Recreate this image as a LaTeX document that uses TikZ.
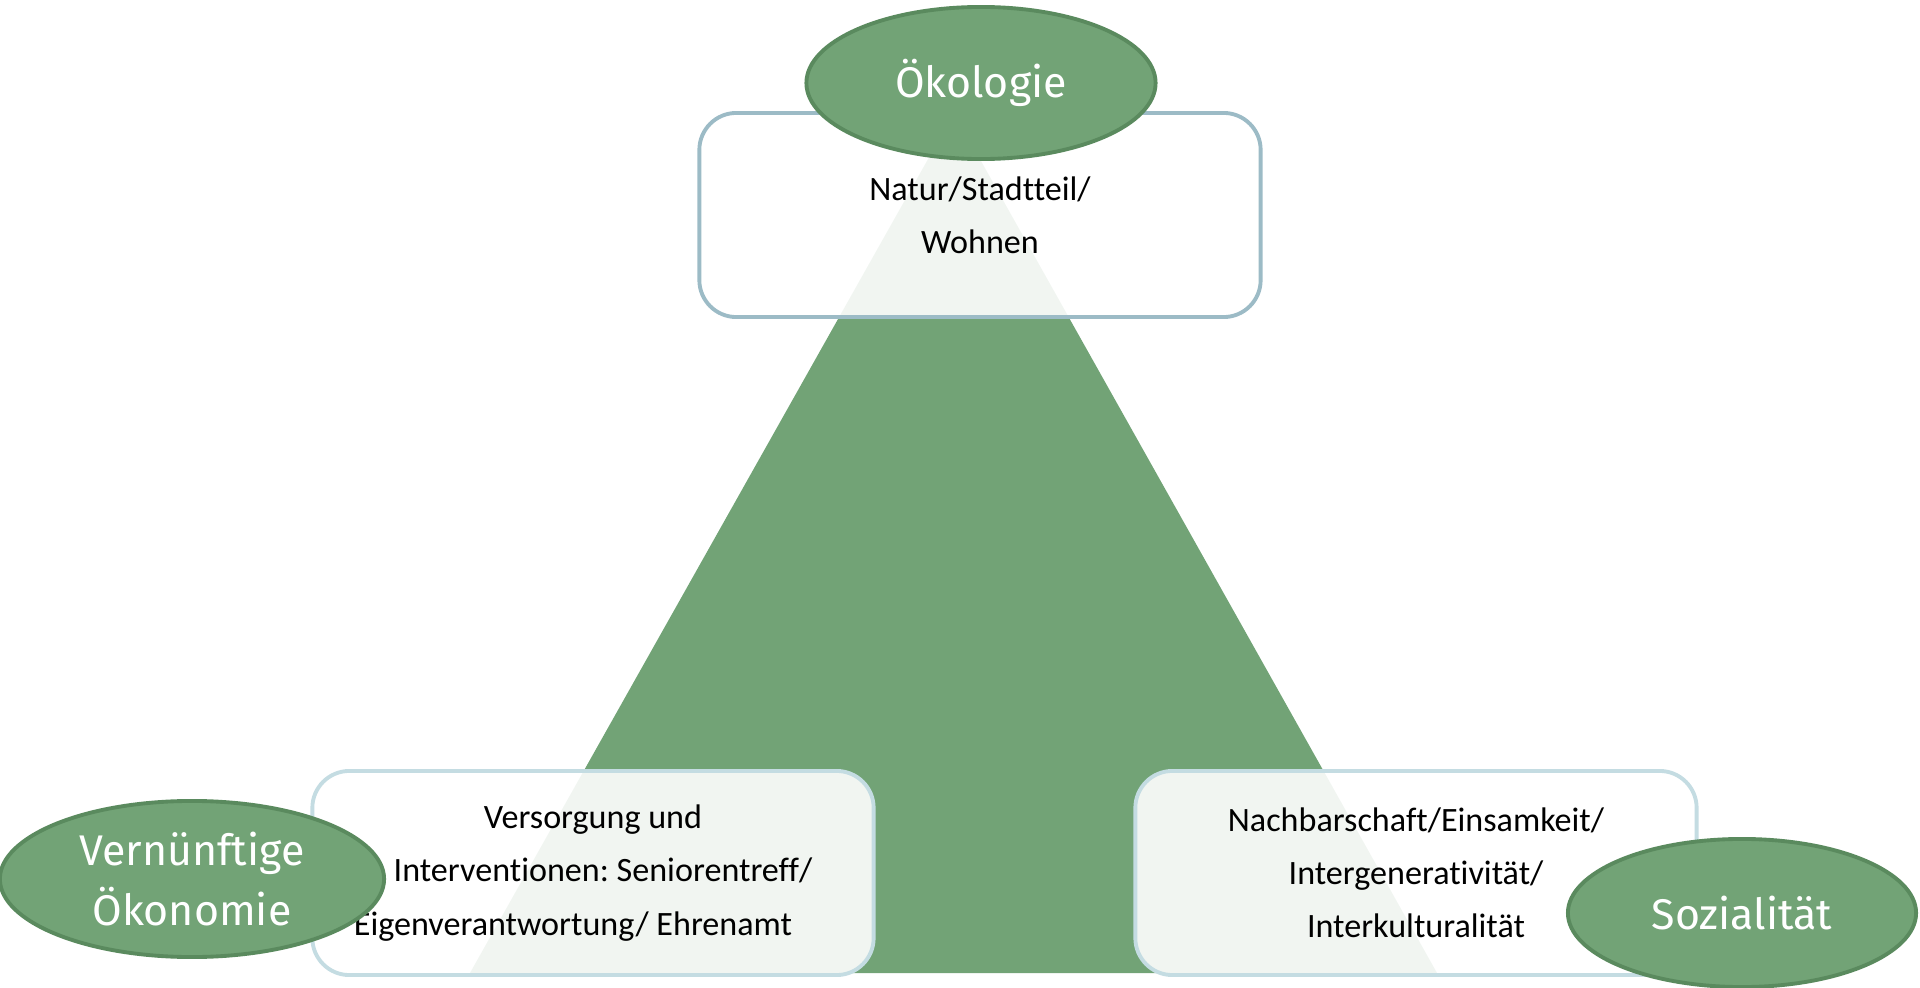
\documentclass[tikz,border=0pt]{standalone}
\usepackage{fontspec}
\setmainfont[Ligatures=NoCommon]{Carlito}
\newfontfamily\themefont{Fira Sans}
\usetikzlibrary{shapes.geometric}
\definecolor{leaf}{HTML}{72A376}
\definecolor{leafdark}{HTML}{5A8A5E}
\definecolor{frametop}{HTML}{9CBBC6}
\definecolor{framelow}{HTML}{C4DCE2}
\frenchspacing

\begin{document}
\begin{tikzpicture}[x=0.01cm, y=-0.01cm,
    pillar/.style={draw, line width=1.1pt, rounded corners=0.37cm, fill=white, fill opacity=0.9, text opacity=1,
      minimum width=5.61cm, minimum height=2.04cm, align=center, inner sep=0pt,
      font=\fontsize{9.7}{15.1}\selectfont},
    theme/.style={ellipse, draw=leafdark, line width=1.1pt, fill=leaf, text=white, inner sep=0pt,
      align=center, font=\themefont\fontsize{12.2}{17}\selectfont}]
        \useasboundingbox (0,0) rectangle (1920,988);

        % Triangle
        \coordinate (apex) at (954,113);
        \coordinate (right) at (1437,973);
        \coordinate (left) at (470,973);
        \fill[leaf] (apex) -- (right) -- (left) -- cycle;

        % Boxes
        \node[pillar, draw=frametop] (natur) at (980,215) {Natur/Stadtteil/\\Wohnen};
        \node[pillar, draw=framelow] (versorgung) at (593,873)
            {Versorgung und\\\hspace*{0.2cm}Interventionen: Seniorentreff/\\Eigenverantwortung/ Ehrenamt\hspace*{0.4cm}};
        \node[pillar, draw=framelow] (nachbar) at (1416,873)
            {Nachbarschaft/Einsamkeit/\\Intergenerativität/\\Interkulturalität};

        % Ellipses
        \node[theme, minimum width=3.49cm, minimum height=1.52cm] (oeko) at (981,83) {\raisebox{-0.04cm}{Ökologie}};
        \node[theme, minimum width=3.84cm, minimum height=1.56cm] (oekonomie) at (192,879) {Vernünftige\\Ökonomie};
        \node[theme, minimum width=3.48cm, minimum height=1.48cm] (sozial) at (1742,913) {Sozialität};
\end{tikzpicture}
\end{document}
